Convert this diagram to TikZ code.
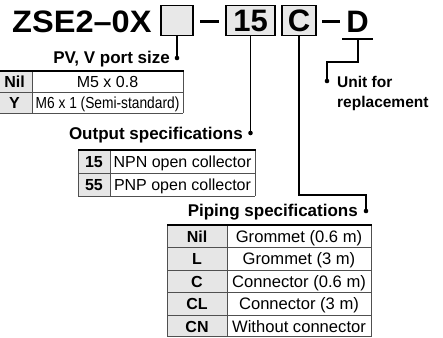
\documentclass[tikz,border=0pt]{standalone}
\usepackage{fontspec}
\setmainfont{Liberation Sans}
\definecolor{cellgray}{HTML}{E6E6E6}
\definecolor{boxgray}{HTML}{E8E8E8}
\definecolor{linegray}{HTML}{505050}
\tikzset{
  big/.style={font=\bfseries\fontsize{31}{31}\selectfont, inner sep=0pt},
  codebox/.style={draw=black, line width=1.3pt, fill=boxgray, minimum height=30pt, inner sep=0pt, text height=22pt, text depth=0pt, font=\bfseries\fontsize{31}{31}\selectfont},
  lab/.style={font=\bfseries\fontsize{17}{20}\selectfont, inner sep=0pt, anchor=base east},
  unitlab/.style={font=\bfseries\fontsize{15.5}{20}\selectfont, inner sep=0pt, anchor=base west},
  hd/.style={font=\bfseries\fontsize{16}{18}\selectfont, inner sep=0pt, text height=11.5pt, text depth=0pt},
  cell/.style={font=\fontsize{16}{18}\selectfont, inner sep=0pt, text height=11.5pt, text depth=0pt},
  cellb/.style={font=\fontsize{16.6}{18}\selectfont, inner sep=0pt, text height=11.9pt, text depth=0pt},
  tline/.style={draw=linegray, line width=0.9pt},
  ttop/.style={draw=black, line width=1.7pt},
  conn/.style={draw=black, line width=1.4pt},
  dot/.style={circle, fill=black, inner sep=0pt, minimum size=4.6pt}
}
\begin{document}
\begin{tikzpicture}[x=1pt, y=-1pt]
\useasboundingbox (0,0) rectangle (443,337);
% title row
\node[big, anchor=base west] (title) at (12,33) {\scalebox{1.05}[1]{ZSE2\textendash 0X}};
\node[codebox, minimum width=32pt] (b1) at (177,20.5) {};
\draw[line width=3pt] (200,22) -- (219,22);
\node[codebox, minimum width=49pt] (b15) at (250.5,20.5) {15};
\node[codebox, minimum width=34pt] (bC) at (299,20.5) {C};
\draw[line width=3pt] (322,22) -- (340,22);
\node[big, anchor=base] (D) at (357.5,33) {D};
\draw[line width=1.4pt] (342,39) -- (373,39);
\coordinate (dU) at (358,39);
% dots
\node[dot] (d1) at (177,58) {};
\node[dot] (d15) at (250.5,133) {};
\coordinate (ck) at (366,195);
\node[dot] (dC) at (366,211) {};
\coordinate (dk) at (327,62);
\node[dot] (dD) at (327,81) {};
% connectors
\draw[conn] (b1.south) -- (d1.center);
\draw[conn] (b15.south) -- (d15.center);
\draw[conn] (bC.south) |- (ck) -- (dC.center);
\draw[conn] (dU) |- (dk) -- (dD.center);
% labels
\node[lab] (l1) at (170,63.5) {PV, V port size};
\node[lab] (l2) at (243,139) {Output specifications};
\node[lab] (l3) at (358,216.5) {Piping specifications};
\node[unitlab] (l4a) at (337,87) {Unit for};
\node[unitlab] (l4b) at (337,107) {replacement};
% table 1
\fill[cellgray] (-3,71) rectangle (32,113);
\draw[tline] (32,71) -- (32,113) (-3,92) -- (183,92) (183,71) -- (183,113) (-3,113) -- (183,113);
\draw[ttop] (-3,71) -- (183.5,71);
\node[hd] (t1a) at (14.5,81.5) {Nil};
\node[hd] (t1b) at (14.5,102.5) {Y};
\node[cell] (t1c) at (107.5,81.5) {M5 x 0.8};
\node[cell] (t1d) at (107.5,102.5) {\scalebox{0.86}[1]{M6 x 1 (Semi-standard)}};
% table 2
\fill[cellgray] (78,150) rectangle (110,196);
\draw[tline] (78,150) -- (78,196) (110,150) -- (110,196) (78,173) -- (255,173) (255,150) -- (255,196) (78,196) -- (255,196);
\draw[ttop] (78,150) -- (255.5,150);
\node[hd] (t2a) at (94,161.5) {15};
\node[hd] (t2b) at (94,184.5) {55};
\node[cell] (t2c) at (182.5,161.5) {NPN open collector};
\node[cell] (t2d) at (182.5,184.5) {PNP open collector};
% table 3
\fill[cellgray] (167,225) rectangle (227,337);
\draw[tline] (167,225) -- (167,337) (227,225) -- (227,337) (371,225) -- (371,337)
  (167,247.5) -- (371,247.5) (167,270) -- (371,270) (167,292.5) -- (371,292.5) (167,315) -- (371,315) (167,336.5) -- (371,336.5);
\draw[ttop] (167,225) -- (371.5,225);
\node[hd] (t3a) at (197,236.25) {Nil};
\node[hd] (t3b) at (197,258.75) {L};
\node[hd] (t3c) at (197,281.25) {C};
\node[hd] (t3d) at (197,303.75) {CL};
\node[hd] (t3e) at (197,326.25) {CN};
\node[cellb] (t3f) at (299,236.25) {Grommet (0.6 m)};
\node[cellb] (t3g) at (299,258.75) {Grommet (3 m)};
\node[cellb] (t3h) at (299,281.25) {Connector (0.6 m)};
\node[cellb] (t3i) at (299,303.75) {Connector (3 m)};
\node[cellb] (t3j) at (299,326.25) {Without connector};
\end{tikzpicture}
\end{document}
